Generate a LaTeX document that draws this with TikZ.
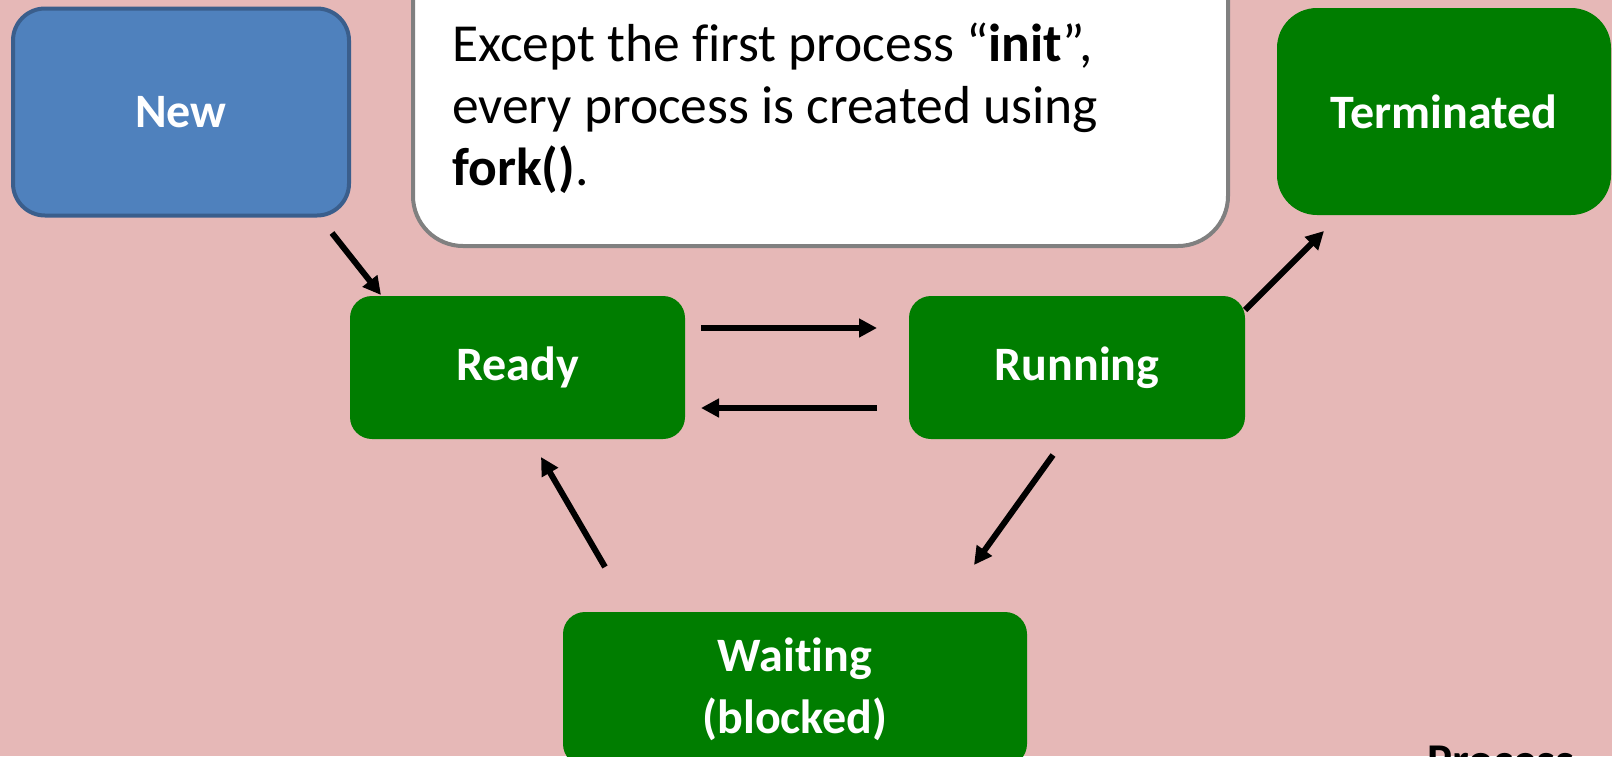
\documentclass[tikz,border=0pt]{standalone}
\usepackage{fontspec}
\setmainfont{Carlito}[Ligatures={NoCommon}]
\usetikzlibrary{arrows.meta}
\definecolor{bg}{RGB}{230,184,183}
\definecolor{stgreen}{RGB}{0,125,0}
\definecolor{newblue}{RGB}{79,129,189}
\definecolor{newborder}{RGB}{58,94,140}
\definecolor{callgray}{RGB}{128,128,128}
\newcommand{\lowtxt}[1]{\raisebox{-3pt}{#1}}
\begin{document}
\begin{tikzpicture}[x=1pt,y=-1pt,
  state/.style={fill=stgreen, text=white, font=\fontsize{48}{62}\selectfont\bfseries,
    rounded corners=22pt, inner sep=0pt, align=center},
  arr/.style={line width=6pt, -{Triangle[length=18pt,width=18pt]}}]
\useasboundingbox (0,0) rectangle (1612,756);
\clip (0,0) rectangle (1612,756);
\fill[bg] (0,0) rectangle (1612,756);

% states
\node[state, fill=newblue, draw=newborder, line width=4pt, rounded corners=32pt,
  minimum width=336pt, minimum height=207pt] (new) at (181,112) {\lowtxt{New}};
\node[state, rounded corners=40pt, minimum width=334pt, minimum height=207pt]
  (term) at (1444,111.5) {\lowtxt{Terminated}};
\node[state, minimum width=335pt, minimum height=143pt] (ready) at (517.5,367.5) {\lowtxt{Ready}};
\node[state, minimum width=336pt, minimum height=143pt] (run) at (1077,367.5) {\lowtxt{Running}};
\node[state, minimum width=464pt, minimum height=154pt] (wait) at (795,689) {Waiting\\(blocked)};

% callout
\node[draw=callgray, line width=4pt, fill=white, rounded corners=50pt,
  minimum width=815pt, minimum height=330pt, inner sep=0pt] (callout) at (820.5,81) {};
\node[anchor=north west, inner sep=0pt, align=left,
  font=\fontsize{53.5}{62}\selectfont] (note) at (452,23)
  {Except the first process “\textbf{init}”,\\every process is created using\\\textbf{fork()}.};

\node[anchor=base west, inner sep=0pt, font=\fontsize{47}{56}\selectfont\bfseries]
  (proc) at (1427,776) {Process};

% connector ends
\coordinate (a1) at (332,233);  \coordinate (a2) at (381,295);
\coordinate (b1) at (701,328);  \coordinate (b2) at (877,328);
\coordinate (c1) at (877,408);  \coordinate (c2) at (701,408);
\coordinate (d1) at (1245,310); \coordinate (d2) at (1324,231);
\coordinate (e1) at (1053,455); \coordinate (e2) at (974,565);
\coordinate (f1) at (605,567);  \coordinate (f2) at (541,457);

\draw[arr] (a1) -- (a2);
\draw[arr] (b1) -- (b2);
\draw[arr] (c1) -- (c2);
\draw[arr] (d1) -- (d2);
\draw[arr] (e1) -- (e2);
\draw[arr] (f1) -- (f2);
\end{tikzpicture}
\end{document}
